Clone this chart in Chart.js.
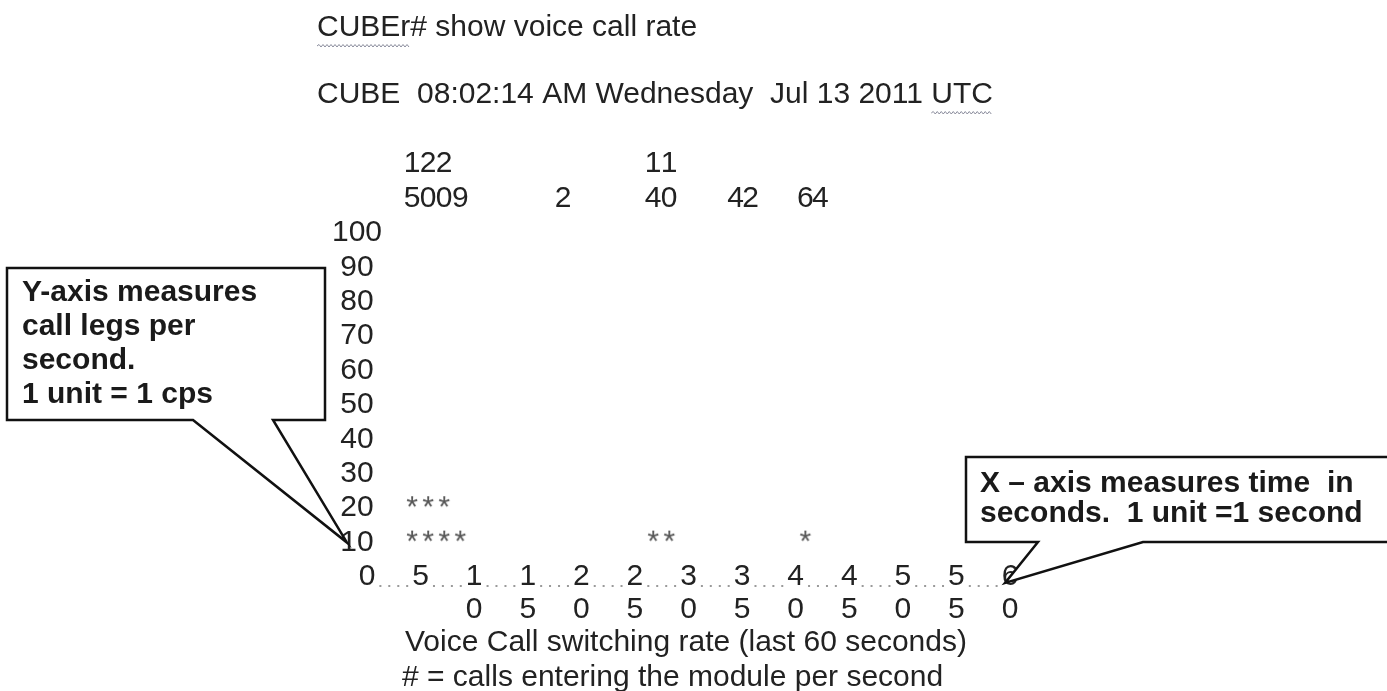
<!DOCTYPE html>
<html>
<head>
<meta charset="utf-8">
<title>show voice call rate</title>
<script src="https://cdn.jsdelivr.net/npm/chart.js@4.4.1/dist/chart.umd.min.js"></script>
<style>
    html, body { margin: 0; padding: 0; background: #fff; }
</style>
</head>
<body>
<canvas id="rateChart" width="1387" height="691"></canvas>
<script>
// ---- data read off the CLI output ----
// second (column) where each printed value sits, and the value itself
var columnSeconds = [4.2, 5.7, 7.2, 8.7, 18.3, 26.7, 28.2, 34.4, 35.8, 40.9, 42.3];
var columnValues  = [15, 20, 20, 9, 2, 14, 10, 4, 2, 6, 4];
var xTickSeconds  = [0, 5, 10, 15, 20, 25, 30, 35, 40, 45, 50, 55, 60];
var yTickValues   = [10, 20, 30, 40, 50, 60, 70, 80, 90, 100];

var headerCommand = 'CUBEr# show voice call rate';
var headerStamp   = 'CUBE  08:02:14 AM Wednesday  Jul 13 2011 UTC';
var footerLines   = ['Voice Call switching rate (last 60 seconds)', '# = calls entering the module per second'];
var yNote = ['Y-axis measures', 'call legs per', 'second.', '1 unit = 1 cps'];
var xNote = ['X \u2013 axis measures time  in', 'seconds.  1 unit =1 second'];

var FONT = '"Liberation Sans", Arial, sans-serif';
function font(px, bold) { return (bold ? 'bold ' : '') + px + 'px ' + FONT; }

// one '*' per 10 units (value rounded to nearest 10), like the router prints it
var starPoints = [];
columnSeconds.forEach(function (s, i) {
    var rows = Math.round(columnValues[i] / 10);
    for (var r = 1; r <= rows; r++) starPoints.push({ x: s, y: r * 10 });
});

// asterisk glyph used as point style
var star = document.createElement('canvas');
star.width = 20; star.height = 40;
var sg = star.getContext('2d');
sg.fillStyle = '#555';
sg.font = font(30);
sg.textAlign = 'center';
sg.textBaseline = 'middle';
sg.fillText('*', 10, 20);

function squiggle(ctx, x1, x2, y) {
    ctx.beginPath();
    ctx.moveTo(x1, y);
    var up = true;
    for (var x = x1 + 2; x <= x2; x += 2) {
        ctx.lineTo(x, up ? y - 1.5 : y + 1);
        up = !up;
    }
    ctx.strokeStyle = '#8a8c9c';
    ctx.lineWidth = 1;
    ctx.stroke();
}

function callout(ctx, b, tip, lines, tx, ty, lh) {
    ctx.beginPath();
    ctx.moveTo(b.gapL, b.bottom);
    ctx.lineTo(tip.x, tip.y);
    ctx.lineTo(b.gapR, b.bottom);
    ctx.lineTo(b.right, b.bottom);
    ctx.lineTo(b.right, b.top);
    ctx.lineTo(b.left, b.top);
    ctx.lineTo(b.left, b.bottom);
    ctx.closePath();
    ctx.fillStyle = '#fff';
    ctx.fill();
    ctx.strokeStyle = '#111';
    ctx.lineWidth = 2.5;
    ctx.lineJoin = 'miter';
    ctx.stroke();
    ctx.fillStyle = '#1a1a1a';
    ctx.font = font(30, true);
    ctx.textAlign = 'left';
    ctx.textBaseline = 'middle';
    lines.forEach(function (t, i) { ctx.fillText(t, tx, ty + i * lh); });
}

var cliText = {
    id: 'cliText',
    beforeDatasetsDraw: function (chart) {
        var ctx = chart.ctx, xs = chart.scales.x, ys = chart.scales.y;
        var x0 = xs.getPixelForValue(0);
        var yBase = ys.getPixelForValue(0);
        var rowH = yBase - ys.getPixelForValue(10);
        ctx.save();
        ctx.textBaseline = 'middle';
        ctx.fillStyle = '#222';
        ctx.font = font(30);

        // header
        ctx.textAlign = 'left';
        ctx.fillText(headerCommand, 317, 28);
        ctx.fillText(headerStamp, 317, 95);
        squiggle(ctx, 317, 317 + ctx.measureText('CUBEr').width, 46);
        var utcX = 317 + ctx.measureText('CUBE  08:02:14 AM Wednesday  Jul 13 2011 ').width;
        squiggle(ctx, utcX, utcX + ctx.measureText('UTC').width, 113);

        // y labels
        ctx.fillStyle = '#222';
        ctx.textAlign = 'center';
        yTickValues.forEach(function (v) {
            ctx.fillText(String(v), x0 - 10, ys.getPixelForValue(v));
        });

        // column values printed vertically above the graph (tens, units)
        columnSeconds.forEach(function (s, i) {
            var v = columnValues[i], px = xs.getPixelForValue(s);
            if (v >= 10) ctx.fillText(String(Math.floor(v / 10)), px, ys.getPixelForValue(120));
            ctx.fillText(String(v % 10), px, ys.getPixelForValue(110));
        });

        // x axis: 0....5....1....1 with second digit on the next line
        xTickSeconds.forEach(function (s, i) {
            var d = String(s), px = xs.getPixelForValue(s);
            ctx.fillStyle = '#222';
            ctx.fillText(d[0], px, yBase);
            if (d.length > 1) ctx.fillText(d[1], px, yBase + 33);
            if (i < xTickSeconds.length - 1) {
                ctx.fillStyle = '#9a9a9a';
                [1.25, 2.08, 2.92, 3.75].forEach(function (f) {
                    ctx.fillRect(xs.getPixelForValue(s + f) - 1, yBase + 8, 2, 2);
                });
            }
        });

        // footer
        ctx.fillStyle = '#222';
        ctx.textAlign = 'left';
        ctx.fillText(footerLines[0], 405, yBase + 66);
        ctx.fillText(footerLines[1], 402, yBase + 101);
        ctx.restore();
    },
    afterDatasetsDraw: function (chart) {
        var ctx = chart.ctx, xs = chart.scales.x, ys = chart.scales.y;
        ctx.save();
        callout(ctx, { left: 7, top: 268, right: 325, bottom: 420, gapL: 193, gapR: 273 },
            { x: xs.getPixelForValue(0) - 20, y: ys.getPixelForValue(10) },
            yNote, 22, 293, 34);
        callout(ctx, { left: 966, top: 457, right: 1400, bottom: 542, gapL: 1038, gapR: 1143 },
            { x: xs.getPixelForValue(60) - 5, y: ys.getPixelForValue(0) + 6 },
            xNote, 980, 484, 30);
        ctx.restore();
    }
};

new Chart(document.getElementById('rateChart').getContext('2d'), {
    type: 'scatter',
    data: {
        datasets: [{
            label: 'calls per second',
            data: starPoints,
            pointStyle: star,
            pointRadius: 6,
            showLine: false
        }]
    },
    options: {
        responsive: false,
        animation: false,
        layout: { padding: { left: 367, right: 377, top: 233, bottom: 114 } },
        plugins: {
            legend: { display: false },
            tooltip: { enabled: false }
        },
        scales: {
            x: { type: 'linear', min: 0, max: 60, display: false },
            y: { type: 'linear', min: 0, max: 100, display: false }
        }
    },
    plugins: [cliText]
});
</script>
</body>
</html>
